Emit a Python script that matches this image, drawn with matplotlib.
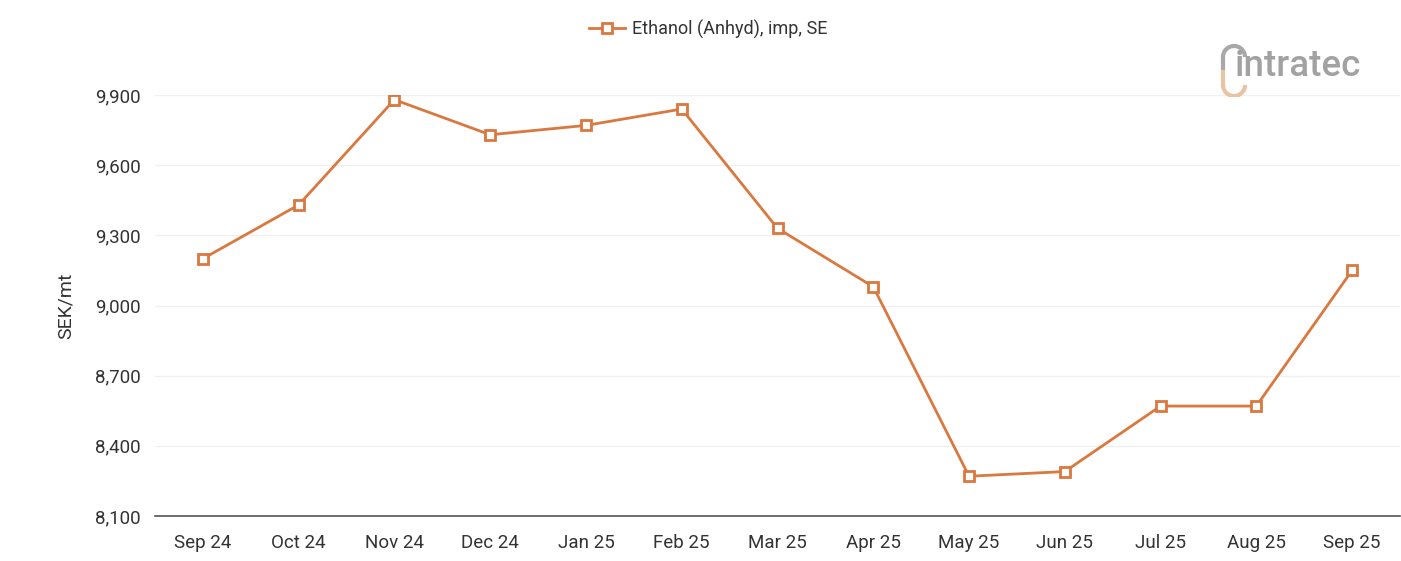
import numpy as np
import matplotlib.pyplot as plt
from matplotlib.patches import Arc

plt.rcParams['font.family'] = ['Roboto', 'DejaVu Sans']

months = ["Sep 24", "Oct 24", "Nov 24", "Dec 24", "Jan 25", "Feb 25", "Mar 25",
          "Apr 25", "May 25", "Jun 25", "Jul 25", "Aug 25", "Sep 25"]
prices = [9200, 9430, 9880, 9730, 9770, 9840, 9330, 9080, 8270, 8290, 8570, 8570, 9150]
yticks = [8100, 8400, 8700, 9000, 9300, 9600, 9900]
series_name = "Ethanol (Anhyd), imp, SE"

line_color = "#D9783F"
text_color = "#333333"

fig = plt.figure(figsize=(14.01, 5.61), dpi=100)
ax = fig.add_axes([155 / 1401, 1 - 516 / 561, 1245 / 1401, (516 - 95) / 561])

x = np.arange(len(months))
ax.plot(x, prices, color=line_color, linewidth=2.0, marker="s", markersize=7.5,
        markerfacecolor="white", markeredgecolor=line_color, markeredgewidth=2.0,
        label=series_name, zorder=3)

ax.set_xlim(-0.5, len(months) - 0.5)
ax.set_ylim(8100, 9900)
ax.set_xticks(x)
ax.set_xticklabels(months)
ax.set_yticks(yticks)
ax.set_yticklabels([f"{v:,}" for v in yticks])
ax.tick_params(axis="both", length=0, labelsize=13.5, colors=text_color)
ax.tick_params(axis="x", pad=13)
ax.tick_params(axis="y", pad=10)
ax.grid(axis="y", color="#f0f0f0", linewidth=1)
ax.set_axisbelow(True)
for s in ["top", "right", "left"]:
    ax.spines[s].set_visible(False)
ax.spines["bottom"].set_color("#555555")
ax.spines["bottom"].set_linewidth(1.2)
ax.set_ylabel("SEK/mt", fontsize=14, color=text_color)
ax.yaxis.set_label_coords(-(155 - 75) / 1245, 0.5)

leg = fig.legend(loc="center", bbox_to_anchor=(708 / 1401, 1 - 29 / 561), frameon=False,
                 fontsize=13, handlelength=2.0, handletextpad=0.4)
for t in leg.get_texts():
    t.set_color(text_color)

# watermark logo
fig.text(1235 / 1401, 1 - 67 / 561, "intratec", fontsize=26.5, color="#a2a2a2",
         fontweight="medium", va="center", ha="left")
lax = fig.add_axes([1218 / 1401, 1 - 97 / 561, 32 / 1401, 56 / 561])
lax.set_xlim(0, 32)
lax.set_ylim(0, 56)
lax.axis("off")
lax.add_patch(Arc((16, 40), 22, 22, theta1=0, theta2=180, color="#a8a8a8", lw=3))
lax.add_patch(Arc((16, 12), 22, 22, theta1=180, theta2=360, color="#e8c4a4", lw=3))
lax.plot([5, 5], [28, 40], color="#a8a8a8", lw=3)
lax.plot([5, 5], [12, 25], color="#e8c4a4", lw=3)

fig.savefig("out.png", dpi=100)
